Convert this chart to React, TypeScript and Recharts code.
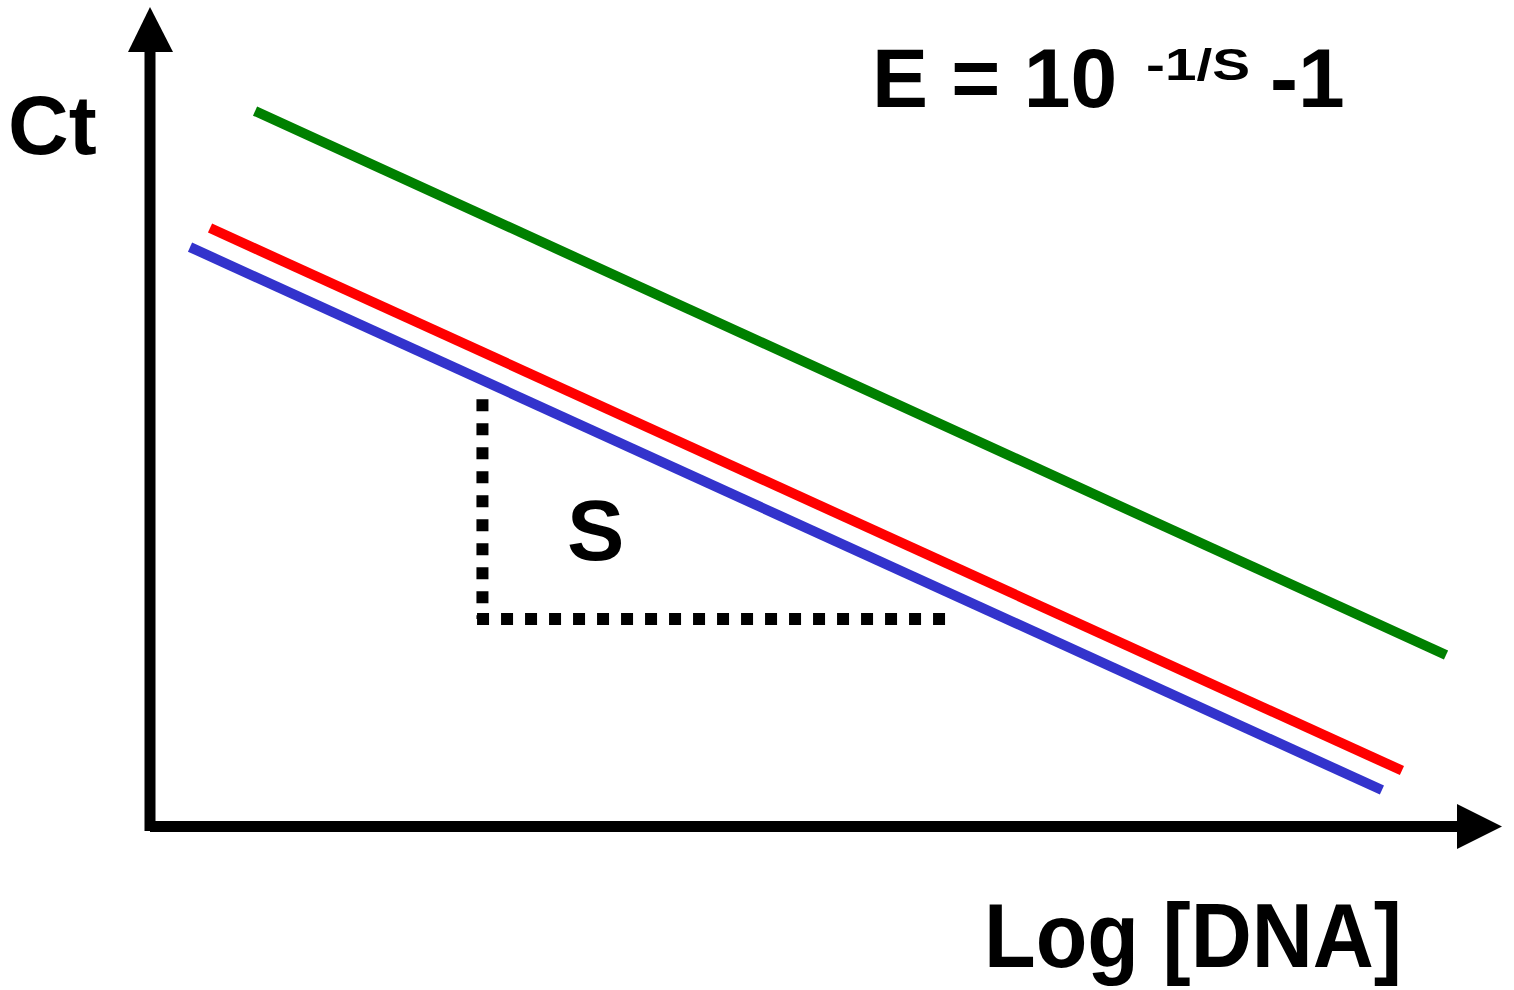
import { LineChart, Line, XAxis, YAxis, ReferenceLine, ReferenceDot } from 'recharts'

// Log [DNA] on x (0-10), Ct on y (0-40)
const greenLine = [
  { x: 0.777, y: 34.92 },
  { x: 9.586, y: 8.37 },
]
const redLine = [
  { x: 0.444, y: 29.21 },
  { x: 9.26, y: 2.73 },
]
const blueLine = [
  { x: 0.296, y: 28.28 },
  { x: 9.112, y: 1.78 },
]
// slope triangle (dotted)
const slopeRise = [
  { x: 2.459, y: 20.86 },
  { x: 2.459, y: 10.13 },
]
const slopeRun = [
  { x: 2.419, y: 10.13 },
  { x: 5.895, y: 10.13 },
]

const FONT = '"Liberation Sans", Arial, sans-serif'

const upArrow = (props: any) => {
  const { cx, cy } = props
  return <polygon points={`${cx},${cy} ${cx - 22},${cy + 45} ${cx + 23},${cy + 45}`} fill="#000" />
}

const rightArrow = (props: any) => {
  const { cx, cy } = props
  return <polygon points={`${cx},${cy} ${cx - 45},${cy - 22.5} ${cx - 45},${cy + 22.5}`} fill="#000" />
}

export default function App() {
  return (
    <div style={{ width: 1514, height: 990, background: '#fff' }}>
      <style>{'body{margin:0}'}</style>
      <LineChart width={1514} height={990} margin={{ top: 7, right: 12, bottom: 163.5, left: 150 }}>
        <XAxis type="number" dataKey="x" domain={[0, 10]} allowDataOverflow hide />
        <YAxis type="number" dataKey="y" domain={[0, 40]} allowDataOverflow hide />

        {/* axes */}
        <ReferenceLine
          segment={[{ x: 0, y: -0.22 }, { x: 0, y: 38.5 }]}
          stroke="#000"
          strokeWidth={11}
          ifOverflow="visible"
        />
        <ReferenceLine
          segment={[{ x: 0, y: 0 }, { x: 9.8, y: 0 }]}
          stroke="#000"
          strokeWidth={11}
          ifOverflow="visible"
        />
        <ReferenceDot x={0} y={40} shape={upArrow} ifOverflow="visible" />
        <ReferenceDot x={10} y={0} shape={rightArrow} ifOverflow="visible" />

        <Line data={slopeRise} dataKey="y" stroke="#000" strokeWidth={12} strokeDasharray="12 12" dot={false} isAnimationActive={false} />
        <Line data={slopeRun} dataKey="y" stroke="#000" strokeWidth={12} strokeDasharray="12 12" dot={false} isAnimationActive={false} />

        <Line data={greenLine} dataKey="y" stroke="#008000" strokeWidth={10} dot={false} isAnimationActive={false} />
        <Line data={redLine} dataKey="y" stroke="#ff0000" strokeWidth={10} dot={false} isAnimationActive={false} />
        <Line data={blueLine} dataKey="y" stroke="#3333cc" strokeWidth={10} dot={false} isAnimationActive={false} />

        <g fontFamily={FONT} fontWeight="bold" fill="#000">
          <text x={8} y={154} fontSize={84}>Ct</text>
          <text x={872} y={107} fontSize={84}>E = 10</text>
          <text x={1146} y={80} fontSize={45} textLength={104} lengthAdjust="spacingAndGlyphs">-1/S</text>
          <text x={1270} y={107} fontSize={84}>-1</text>
          <text x={567} y={560} fontSize={86}>S</text>
          <text x={984} y={967} fontSize={90} textLength={418} lengthAdjust="spacingAndGlyphs">Log [DNA]</text>
        </g>
      </LineChart>
    </div>
  )
}
